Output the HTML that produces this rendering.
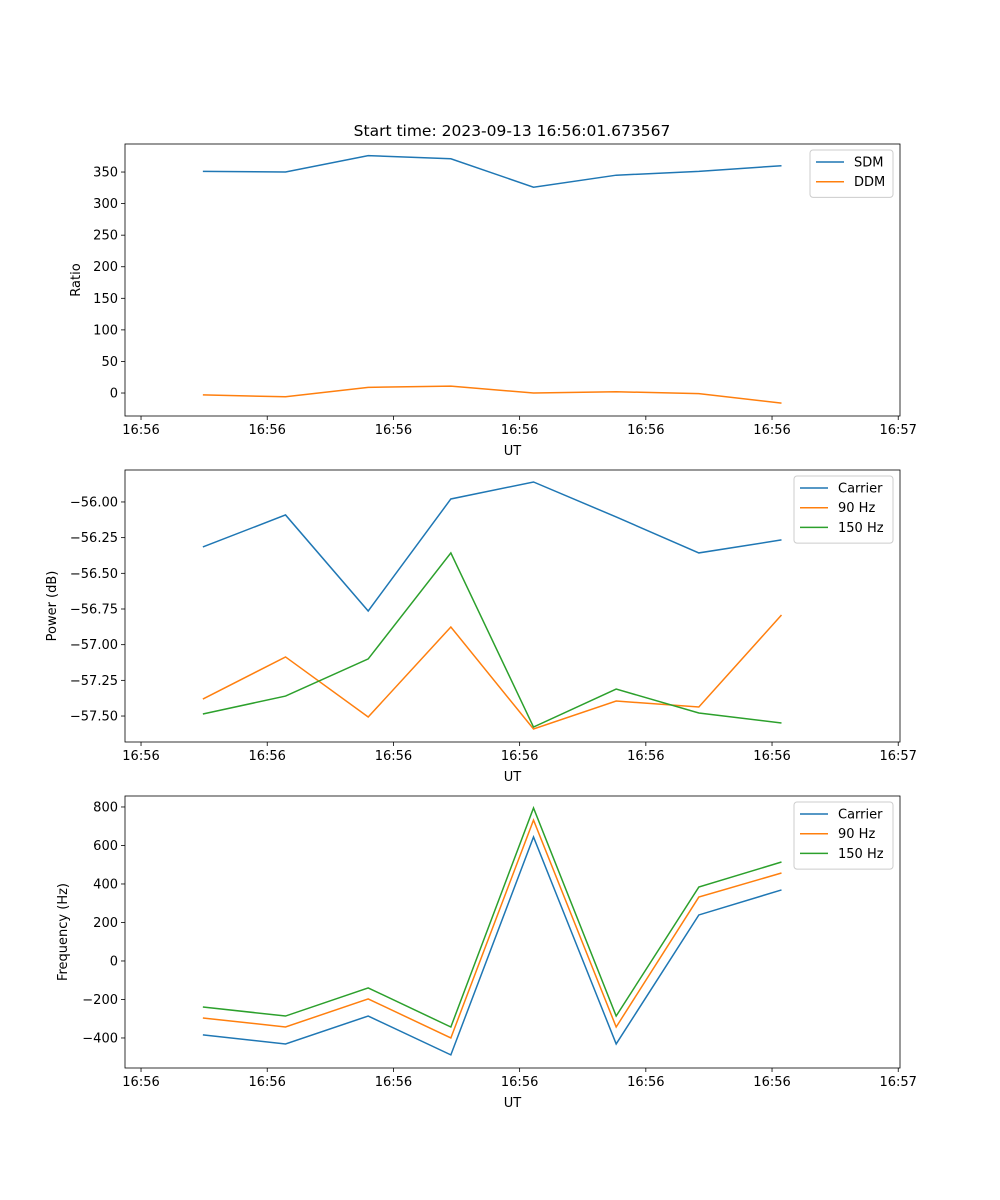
<!DOCTYPE html>
<html><head><meta charset="utf-8"><style>
body{margin:0;background:#fff}
svg{display:block;font-family:"DejaVu Sans","Liberation Sans",sans-serif}
</style></head><body>
<svg id="fig" width="1000" height="1200"></svg>
<script>
const times = [4.9, 11.45, 18.0, 24.55, 31.1, 37.65, 44.2, 50.75];
const xTicks = [0, 10, 20, 30, 40, 50, 60];
const xTickLabels = ["16:56","16:56","16:56","16:56","16:56","16:56","16:57"];
const sdm = [351, 350, 376, 371, 326, 345, 351, 360];
const ddm = [-3, -6, 9, 11, 0, 2, -1, -16];
const pCarrier = [-56.315, -56.091, -56.764, -55.979, -55.86, -56.105, -56.357, -56.266];
const p90 = [-57.381, -57.086, -57.507, -56.876, -57.591, -57.395, -57.437, -56.792];
const p150 = [-57.486, -57.36, -57.10, -56.357, -57.577, -57.311, -57.479, -57.549];
const fCarrier = [-384, -431, -286, -488, 644, -431, 239, 369];
const f90 = [-296, -343, -197, -400, 732, -343, 332, 457];
const f150 = [-239, -286, -140, -343, 795, -286, 384, 514];
const ratioTicks = [0, 50, 100, 150, 200, 250, 300, 350];
const powerTicks = [-56.0, -56.25, -56.5, -56.75, -57.0, -57.25, -57.5];
const freqTicks = [-400, -200, 0, 200, 400, 600, 800];

const NS = "http://www.w3.org/2000/svg";
const svg = document.getElementById('fig');
function mk(tag, attrs, parent){const e=document.createElementNS(NS,tag);for(const k in attrs)e.setAttribute(k,attrs[k]);(parent||svg).appendChild(e);return e;}
const L=125,R=900;
const xs = t => L + (t - (-1.27)) / (60.14 - (-1.27)) * (R - L);

function panel(name, top, bottom, ymin, ymax, yticks, fmt, ylabel, series, legendW){
  const g = mk('g', {});
  
  
  const ys = v => bottom - (v - ymin) / (ymax - ymin) * (bottom - top);
  xTicks.forEach((t,i)=>{
    const x = xs(t);
    mk('line',{x1:x,x2:x,y1:bottom,y2:bottom+4,stroke:'#000','stroke-width':0.8},g);
    const tx = mk('text',{x:x,y:bottom+18,'font-size':13,'text-anchor':'middle'},g);
    tx.textContent = xTickLabels[i];
    
    
  });
  yticks.forEach(v=>{
    const y = ys(v);
    mk('line',{x1:L-4,x2:L,y1:y,y2:y,stroke:'#000','stroke-width':0.8},g);
    const tx = mk('text',{x:L-7,y:y+4.5,'font-size':13,'text-anchor':'end'},g);
    tx.textContent = fmt(v);
    
    
  });
  const xl = mk('text',{x:(L+R)/2,y:bottom+39,'font-size':13,'text-anchor':'middle'},g);
  xl.textContent='UT';
  
  
  const yx = name==='ratio'?80:(name==='power'?56:67);
  const yl = mk('text',{x:yx,y:(top+bottom)/2,'font-size':13,'text-anchor':'middle',transform:`rotate(-90 ${yx} ${(top+bottom)/2})`},g);
  yl.textContent=ylabel;
  
  
  series.forEach(s=>{
    const p = mk('polyline',{points:s.data.map((v,i)=>xs(times[i])+','+ys(v)).join(' '),fill:'none',stroke:s.color,'stroke-width':1.5},g);
    
    
  });
  mk('rect',{x:L,y:top,width:R-L,height:bottom-top,fill:'none',stroke:'#000','stroke-width':0.8},g);
  const lx = R-7-legendW, ly = top+6, lh = 8 + series.length*19.7;
  const lg = mk('g',{},g);
  
  
  mk('rect',{x:lx,y:ly,width:legendW,height:lh,rx:3,fill:'#fff',stroke:'#ccc','stroke-width':1},lg);
  series.forEach((s,i)=>{
    const yy = ly+12+i*19.7;
    mk('line',{x1:lx+6,x2:lx+34,y1:yy,y2:yy,stroke:s.color,'stroke-width':1.5},lg);
    const t = mk('text',{x:lx+44,y:yy+4.5,'font-size':13},lg);
    t.textContent=s.label;
    
    
  });
}
const title = mk('text',{x:512,y:136,'font-size':15.5,'text-anchor':'middle'});
title.textContent='Start time: 2023-09-13 16:56:01.673567';



panel('ratio',144,416,-36.4,394.4,ratioTicks,v=>String(v),'Ratio',
  [{data:sdm,color:'#1f77b4',label:'SDM'},{data:ddm,color:'#ff7f0e',label:'DDM'}],83);
panel('power',470,742,-57.682,-55.776,powerTicks,v=>'\u2212'+Math.abs(v).toFixed(2),'Power (dB)',
  [{data:pCarrier,color:'#1f77b4',label:'Carrier'},{data:p90,color:'#ff7f0e',label:'90 Hz'},{data:p150,color:'#2ca02c',label:'150 Hz'}],99);
panel('frequency',796,1068,-556,857,freqTicks,v=>v<0?'\u2212'+Math.abs(v):String(v),'Frequency (Hz)',
  [{data:fCarrier,color:'#1f77b4',label:'Carrier'},{data:f90,color:'#ff7f0e',label:'90 Hz'},{data:f150,color:'#2ca02c',label:'150 Hz'}],99);
</script>
</body></html>
